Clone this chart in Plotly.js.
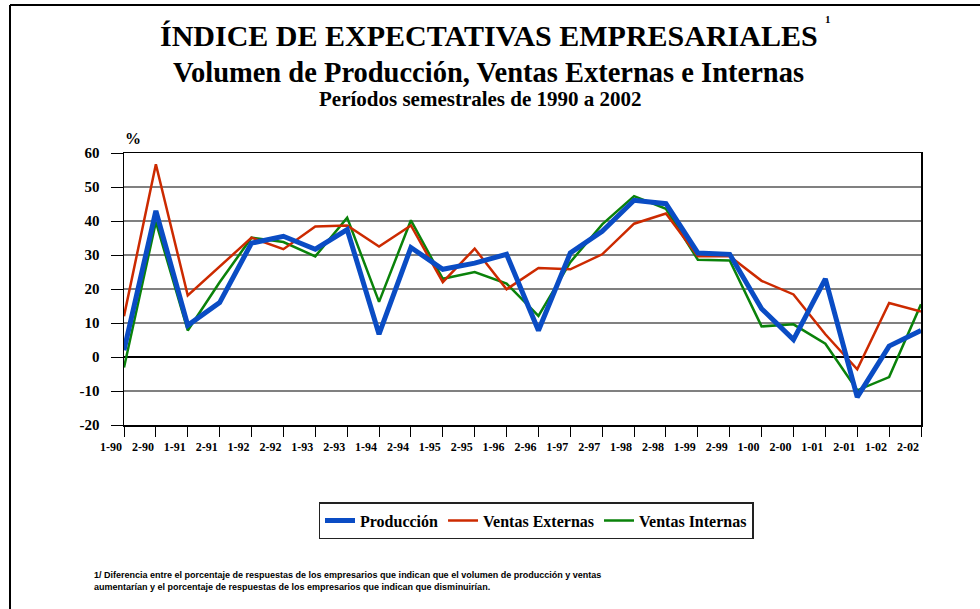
<!DOCTYPE html>
<html>
<head>
<meta charset="utf-8">
<script src="https://cdn.plot.ly/plotly-3.0.1.min.js"></script>
<style>html,body{margin:0;padding:0;background:#fff;}#chart{width:980px;height:609px;}</style>
</head>
<body>
<div id="chart"></div>
<script>
const periods = ["1-90","2-90","1-91","2-91","1-92","2-92","1-93","2-93","1-94","2-94","1-95","2-95","1-96","2-96","1-97","2-97","1-98","2-98","1-99","2-99","1-00","2-00","1-01","2-01","1-02","2-02"];
const produccion = [2,43,9.3,16,33.5,35.5,31.7,37.5,6.7,32.2,25.8,27.6,30.2,7.8,30.6,37,46.1,45.1,30.6,30.2,14.2,5.1,23,-11.8,3.2,7.8];
const ventasExternas = [12,56.7,18.1,26.5,35.1,31.7,38.4,38.7,32.5,38.7,22,31.9,19.9,26.2,25.8,30.2,39.2,42.2,29.6,29.6,22.4,18.4,6.7,-3.6,15.9,13.4];
const ventasInternas = [-3.1,39.7,7.8,22,35.1,33.8,29.6,41,16.2,40.2,23,25,21.6,12.1,27.9,39,47.3,43.6,28.6,28.4,9,9.6,3.9,-9.8,-5.9,15.5];
const yTicks = [-20,-10,0,10,20,30,40,50,60];
const yTickText = ["-20","-10","0","10","20","30","40","50","60"];

const L = 124, R = 921, T = 153, B = 425;
const px = x => (x - L) / (R - L);
const py = y => (B - y) / (B - T);
const serif = "Liberation Serif, Times New Roman, serif";

const traces = [
  {x: periods, y: ventasInternas, name: "Ventas Internas", type: "scatter", mode: "lines",
   line: {color: "#0a820a", width: 2.5}},
  {x: periods, y: ventasExternas, name: "Ventas Externas", type: "scatter", mode: "lines",
   line: {color: "#cc2a00", width: 2.5}},
  {x: periods, y: produccion, name: "Producción", type: "scatter", mode: "lines",
   line: {color: "#0a4cc4", width: 5}}
];

const layout = {
  width: 980, height: 609,
  margin: {l: L, r: 980 - R, t: T, b: 609 - B, pad: 0},
  paper_bgcolor: "#fff", plot_bgcolor: "#fff",
  showlegend: true,
  legend: {orientation: "h", traceorder: "reversed", x: px(536), xanchor: "center", y: py(502), yanchor: "top",
    bordercolor: "#222", borderwidth: 1.5, bgcolor: "#fff",
    font: {family: serif, size: 16, color: "#000", weight: "bold"}, itemwidth: 30},
  xaxis: {type: "category", range: [0, periods.length - 1], showgrid: false, zeroline: false,
    showline: true, linecolor: "#000", linewidth: 1.5, mirror: true,
    ticks: "outside", ticklen: 10, tickcolor: "#000", tickwidth: 1,
    ticklabelshift: -13,
    tickfont: {family: serif, size: 12, color: "#000", weight: "bold"}, tickangle: 0},
  yaxis: {range: [-20, 60], tickvals: yTicks, ticktext: yTickText, showgrid: true, gridcolor: "#808080", gridwidth: 1.5,
    zeroline: true, zerolinecolor: "#000", zerolinewidth: 2,
    showline: true, linecolor: "#000", linewidth: 1.5, mirror: true,
    ticks: "outside", ticklen: 12, tickcolor: "#000", tickwidth: 1,
    ticklabelstandoff: 8,
    tickfont: {family: serif, size: 15, color: "#000", weight: "bold"}},
  annotations: [
    {text: "ÍNDICE DE EXPECTATIVAS EMPRESARIALES", xref: "paper", yref: "paper", x: px(489), y: py(35),
     xanchor: "center", yanchor: "middle", showarrow: false, font: {family: serif, size: 30, color: "#000", weight: "bold"}},
    {text: "1", xref: "paper", yref: "paper", x: px(828), y: py(19),
     xanchor: "center", yanchor: "middle", showarrow: false, font: {family: serif, size: 11, color: "#000", weight: "bold"}},
    {text: "Volumen de Producción, Ventas Externas e Internas", xref: "paper", yref: "paper", x: px(488), y: py(73),
     xanchor: "center", yanchor: "middle", showarrow: false, font: {family: serif, size: 28.5, color: "#000", weight: "bold"}},
    {text: "Períodos semestrales de 1990 a 2002", xref: "paper", yref: "paper", x: px(480), y: py(99),
     xanchor: "center", yanchor: "middle", showarrow: false, font: {family: serif, size: 21, color: "#000", weight: "bold"}},
    {text: "%", xref: "paper", yref: "paper", x: px(133), y: py(138),
     xanchor: "center", yanchor: "middle", showarrow: false, font: {family: serif, size: 16, color: "#000", weight: "bold"}},
    {text: "1/ Diferencia entre el porcentaje de respuestas de los empresarios que indican que el volumen de producción y ventas<br>aumentarían y el porcentaje de respuestas de los empresarios que indican que disminuirían.",
     xref: "paper", yref: "paper", x: px(92), y: py(581), xanchor: "left", yanchor: "middle", align: "left", showarrow: false,
     font: {family: "Liberation Sans, Arial, sans-serif", size: 9, color: "#000", weight: "bold"}}
  ],
  shapes: [
    {type: "line", xref: "paper", yref: "paper", x0: px(10), x1: px(985), y0: py(5), y1: py(5), line: {color: "#000", width: 2}},
    {type: "line", xref: "paper", yref: "paper", x0: px(10), x1: px(10), y0: py(5), y1: py(615), line: {color: "#000", width: 2}}
  ]
};

Plotly.newPlot("chart", traces, layout, {displayModeBar: false, staticPlot: true});
</script>
</body>
</html>
